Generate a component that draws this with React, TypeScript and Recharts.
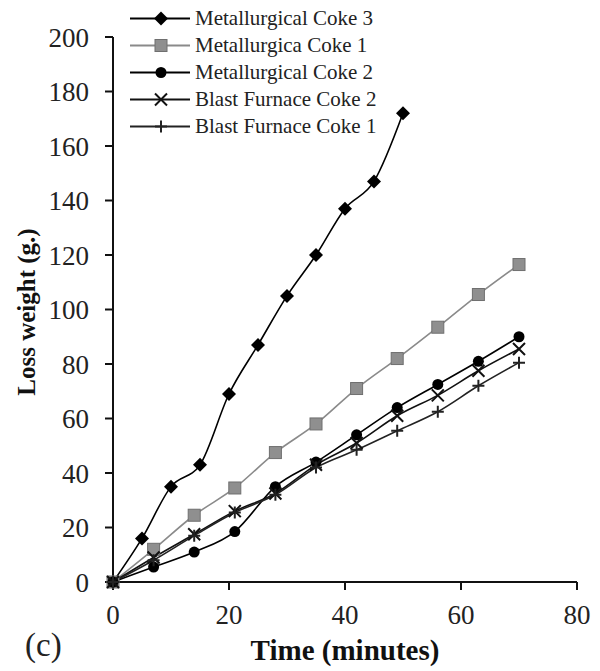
import React from 'react';
import { LineChart, Line, XAxis, YAxis } from 'recharts';

// time (minutes)
const met3Time = [0, 5, 10, 15, 20, 25, 30, 35, 40, 45, 50];
const weekTime = [0, 7, 14, 21, 28, 35, 42, 49, 56, 63, 70];

// loss weight (g.)
const met3Loss = [0, 16, 35, 43, 69, 87, 105, 120, 137, 147, 172];
const met1Loss = [0, 12, 24.5, 34.5, 47.5, 58, 71, 82, 93.5, 105.5, 116.5];
const met2Loss = [0, 5.5, 11, 18.5, 35, 44, 54, 64, 72.5, 81, 90];
const bf2Loss = [0, 9, 17.5, 26, 32.5, 43, 51, 61, 68.5, 77.5, 85.5];
const bf1Loss = [0, 8, 17, 25.5, 32, 42, 48.5, 55.5, 62.5, 72, 80.5];

const xTicks = [0, 20, 40, 60, 80];
const yTicks = [0, 20, 40, 60, 80, 100, 120, 140, 160, 180, 200];

const toPoints = (xs: number[], ys: number[]) => xs.map((x, i) => ({ x, y: ys[i] }));

const FONT = '"Liberation Serif", "Times New Roman", serif';

type MarkerKind = 'diamond' | 'square' | 'circle' | 'cross' | 'plus';

const Marker = ({ kind, cx, cy }: { kind: MarkerKind; cx: number; cy: number }) => {
  if (kind === 'diamond')
    return <path d={`M${cx},${cy - 7}L${cx + 7},${cy}L${cx},${cy + 7}L${cx - 7},${cy}Z`} fill="#000" />;
  if (kind === 'square')
    return <rect x={cx - 6} y={cy - 6} width={12} height={12} fill="#8f8f8f" stroke="#6f6f6f" strokeWidth={1} />;
  if (kind === 'circle') return <circle cx={cx} cy={cy} r={5.5} fill="#000" />;
  if (kind === 'cross')
    return (
      <path d={`M${cx - 6},${cy - 6}L${cx + 6},${cy + 6}M${cx - 6},${cy + 6}L${cx + 6},${cy - 6}`} stroke="#111" strokeWidth={2} />
    );
  return <path d={`M${cx - 6},${cy}L${cx + 6},${cy}M${cx},${cy - 6}L${cx},${cy + 6}`} stroke="#222" strokeWidth={2} />;
};

const series = [
  { name: 'Metallurgical Coke 3', data: toPoints(met3Time, met3Loss), kind: 'diamond' as MarkerKind, color: '#000' },
  { name: 'Metallurgica Coke 1', data: toPoints(weekTime, met1Loss), kind: 'square' as MarkerKind, color: '#8a8a8a' },
  { name: 'Metallurgical Coke 2', data: toPoints(weekTime, met2Loss), kind: 'circle' as MarkerKind, color: '#000' },
  { name: 'Blast Furnace Coke 2', data: toPoints(weekTime, bf2Loss), kind: 'cross' as MarkerKind, color: '#111' },
  { name: 'Blast Furnace Coke 1', data: toPoints(weekTime, bf1Loss), kind: 'plus' as MarkerKind, color: '#222' },
];

const LegendBox = () => (
  <div
    style={{
      position: 'absolute',
      left: 130,
      top: 5,
      fontFamily: FONT,
      fontSize: 21,
      color: '#222',
      whiteSpace: 'nowrap',
    }}
  >
    {series.map((s) => (
      <div key={s.name} style={{ display: 'flex', alignItems: 'center', height: 27 }}>
        <svg width={65} height={27}>
          <line x1={0} y1={13.5} x2={60} y2={13.5} stroke={s.color} strokeWidth={2} />
          <Marker kind={s.kind} cx={31} cy={13.5} />
        </svg>
        <span style={{ lineHeight: '27px' }}>{s.name}</span>
      </div>
    ))}
  </div>
);

export default function App() {
  return (
    <div style={{ position: 'absolute', left: 0, top: 0, width: 600, height: 671, background: '#fff' }}>
      <LineChart width={600} height={671} margin={{ top: 37, right: 23, bottom: 5, left: 5 }}>
        <XAxis
          type="number"
          dataKey="x"
          domain={[0, 80]}
          ticks={xTicks}
          allowDuplicatedCategory={false}
          height={84}
          tickSize={8}
          tickMargin={15}
          stroke="#111"
          strokeWidth={2}
          tick={{ fontFamily: FONT, fontSize: 27, fill: '#222' }}
          label={{
            content: () => (
              <g>
                <text x={345} y={660} textAnchor="middle" fontFamily={FONT} fontSize={29} fontWeight="bold" fill="#111">
                  Time (minutes)
                </text>
                <text x={25} y={656} fontFamily={FONT} fontSize={33} fill="#222">
                  (c)
                </text>
              </g>
            ),
          }}
        />
        <YAxis
          type="number"
          dataKey="y"
          domain={[0, 200]}
          ticks={yTicks}
          width={108}
          tickSize={8}
          tickMargin={16}
          stroke="#111"
          strokeWidth={2}
          tick={{ fontFamily: FONT, fontSize: 27, fill: '#222' }}
          label={{
            content: () => (
              <text
                x={0}
                y={0}
                transform="translate(35,312) rotate(-90)"
                textAnchor="middle"
                fontFamily={FONT}
                fontSize={25}
                fontWeight="bold"
                fill="#111"
              >
                Loss weight (g.)
              </text>
            ),
          }}
        />
        {series.map((s) => (
          <Line
            key={s.name}
            name={s.name}
            data={s.data}
            dataKey="y"
            type="monotone"
            stroke={s.color}
            strokeWidth={1.6}
            isAnimationActive={false}
            dot={(p: any) => <Marker key={`${s.name}-${p.index}`} kind={s.kind} cx={p.cx} cy={p.cy} />}
            activeDot={false}
          />
        ))}
      </LineChart>
      <LegendBox />
    </div>
  );
}
